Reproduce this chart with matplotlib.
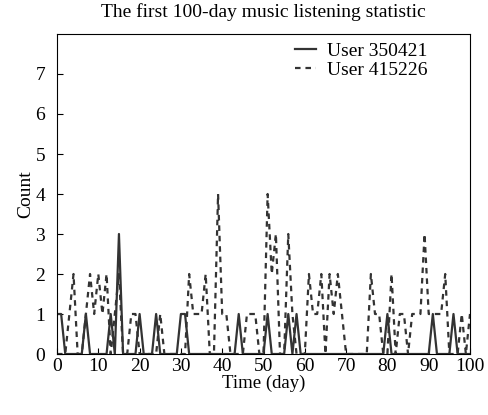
import numpy as np
import matplotlib
matplotlib.use("Agg")
import matplotlib.pyplot as plt

plt.rcParams['font.family'] = ['Liberation Serif', 'DejaVu Serif']

days = np.arange(0, 101)

# daily counts, only the non-zero days
user1_days = [0, 1, 7, 13, 15, 20, 24, 30, 31, 44, 51, 56, 58, 80, 91, 96]
user1_vals = [1, 1, 1, 1, 3, 1, 1, 1, 1, 1, 1, 1, 1, 1, 1, 1]

user2_days = [3, 4, 7, 8, 9, 10, 11, 12, 14, 15, 18, 19, 25, 32, 33, 34, 35, 36,
              39, 40, 41, 46, 47, 48, 51, 52, 53, 56, 57, 61, 62, 63, 64, 66, 67,
              68, 69, 76, 77, 78, 81, 83, 84, 86, 87, 88, 89, 90, 91, 92, 93, 94,
              98, 100]
user2_vals = [1, 2, 1, 2, 1, 2, 1, 2, 1, 2, 1, 1, 1, 2, 1, 1, 1, 2,
              4, 1, 1, 1, 1, 1, 4, 2, 3, 3, 1, 2, 1, 1, 2, 2, 1,
              2, 1, 2, 1, 1, 2, 1, 1, 1, 1, 1, 3, 1, 1, 1, 1, 2,
              1, 1]

user1 = np.zeros(len(days))
user1[user1_days] = user1_vals
user2 = np.zeros(len(days))
user2[user2_days] = user2_vals

fig = plt.figure(figsize=(4.89, 4.15), dpi=100)
ax = fig.add_axes([57/489, 1 - 354/415, (470-57)/489, (354-34)/415])

ax.plot(days, user1, color='#333333', lw=1.6, label='User 350421')
ax.plot(days, user2, color='#333333', lw=1.6, linestyle=(0, (2.5, 2.2)),
        label='User 415226')

ax.set_xlim(0, 100)
ax.set_ylim(0, 8)
ax.set_xticks(range(0, 101, 10))
ax.set_yticks(range(0, 8))
ax.tick_params(direction='in', labelsize=14, length=4, pad=3)
ax.tick_params(axis='y', pad=8.5)
ax.set_xlabel('Time (day)', fontsize=13.5, labelpad=0)
ax.set_ylabel('Count', fontsize=14, labelpad=1)
ax.set_title('The first 100-day music listening statistic', fontsize=14, pad=12)
ax.legend(loc='upper right', bbox_to_anchor=(0.898, 0.975), frameon=False,
          fontsize=14, handlelength=1.05, labelspacing=0.1, borderaxespad=0,
          borderpad=0, handletextpad=0.6)

fig.savefig('out.png', dpi=100)
